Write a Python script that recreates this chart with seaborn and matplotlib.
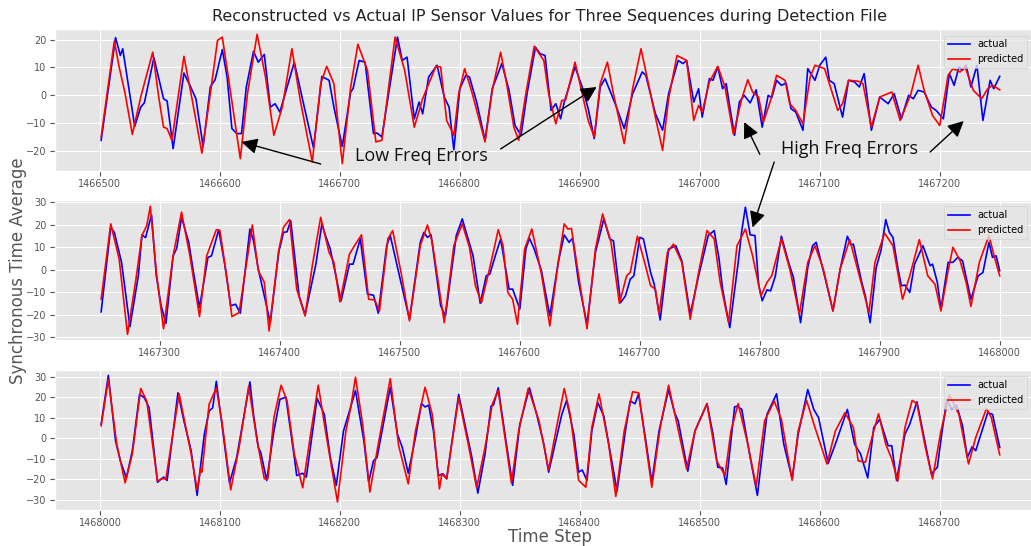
import matplotlib
matplotlib.use("Agg")
from matplotlib import pyplot as plt
from matplotlib.ticker import MultipleLocator
import seaborn as sns

# first time step of each of the three sequences
seq_starts = [1466500, 1467250, 1468000]
seq_len = 750

# (step offset from sequence start, value)
p1_actual = [
    (1, -16.1), (13, 20.7), (17, 14.3), (19, 16.7), (29, -11.1), (34, -4.2), (37, -2.7), (45, 13.5),
    (53, -1.2), (56, -2.0), (61, -19.1), (70, 8.0), (75, 3.6), (80, -1.2), (86, -18.3), (92, 3.0),
    (96, 5.6), (102, 16.4), (106, 6.6), (110, -11.9), (114, -13.7), (118, -13.7), (122, 3.0), (128, 15.8),
    (132, 11.9), (137, 14.7), (142, -4.2), (146, -3.0), (150, -6.0), (162, 11.9), (170, -3.6), (178, -18.8),
    (185, 6.8), (191, 5.4), (195, -4.2), (202, -18.3), (209, 1.2), (211, 2.4), (216, 12.5), (221, 11.9),
    (228, -13.7), (231, -13.5), (235, -14.9), (248, 20.9), (252, 12.5), (256, 13.7), (262, -8.4), (266, -2.4),
    (269, -6.6), (274, 6.6), (281, 10.8), (287, -0.6), (291, -4.2), (295, -19.5), (300, 2.4), (305, 7.2),
    (308, 6.6), (314, -2.4), (321, -16.1), (327, 2.4), (335, 11.4), (341, 1.8), (346, -10.8), (351, -14.3),
    (356, 0.6), (363, 17.3), (367, 14.9), (371, 14.3), (376, -5.4), (380, -3.0), (384, -8.4), (387, -2.4),
    (396, 10.2), (402, 3.0), (407, -4.8), (412, -15.5), (417, 3.0), (421, 6.0), (425, 1.8), (430, -3.6),
    (437, -11.9), (444, 0.6), (452, 8.4), (455, 7.2), (463, -6.6), (469, -12.5), (474, 0.6), (482, 12.5),
    (486, 11.4), (489, 12.5), (495, -2.4), (499, 2.4), (502, -7.8), (508, 6.0), (511, 5.4), (515, 10.2),
    (519, 2.4), (522, 4.2), (525, -4.2), (529, -14.3), (533, -2.4), (537, 0.0), (542, -2.7), (547, 2.0),
    (552, -11.4), (557, 0.0), (560, -0.8), (564, 5.4), (568, 3.6), (572, 4.4), (576, -4.8), (580, -6.0),
    (586, -12.5), (590, 9.6), (596, 5.4), (600, 10.8), (605, 13.7), (608, 5.4), (612, 4.2), (619, -7.8),
    (624, 5.4), (629, 4.8), (633, 3.0), (637, 7.8), (643, -12.5), (650, -0.6), (657, -3.0), (662, 0.6),
    (668, -8.4), (674, 0.0), (678, -1.2), (682, 1.8), (687, 1.2), (693, -4.2), (697, -5.4), (703, -8.4),
    (708, 7.8), (712, 3.6), (716, 10.2), (719, 9.0), (722, 10.8), (726, 3.0), (731, 10.8), (736, -9.0),
    (742, 5.4), (745, 2.4), (750, 6.8),
]
p1_predicted = [
    (1, -14.9), (12, 19.5), (16, 10.2), (21, 0.6), (27, -14.0), (34, -0.6), (44, 15.5), (49, -0.6),
    (53, -11.4), (56, -11.9), (60, -16.1), (70, 14.0), (77, -1.8), (85, -20.7), (92, 0.6), (98, 19.7),
    (102, 20.9), (107, 6.6), (117, -22.7), (123, 0.6), (131, 21.9), (138, 6.6), (145, -14.3), (152, -4.2),
    (160, 16.7), (167, -1.8), (177, -23.9), (184, 4.2), (189, 10.4), (195, 4.2), (202, -24.5), (209, 3.0),
    (215, 18.3), (223, 9.0), (230, -16.7), (235, -16.1), (246, 20.9), (254, 9.0), (262, -11.4), (269, -1.2),
    (280, 10.4), (284, 10.2), (289, -9.0), (295, -14.3), (299, 0.6), (304, 9.6), (310, 1.2), (321, -16.7),
    (327, 1.8), (334, 15.5), (339, 4.2), (345, -11.4), (349, -16.1), (355, 0.6), (362, 17.6), (370, 12.5),
    (374, 0.6), (380, -10.2), (385, -1.8), (388, -1.8), (396, 11.9), (402, 0.6), (407, -9.0), (412, -14.9),
    (417, 4.2), (423, 11.9), (428, 0.6), (432, -7.2), (437, -17.3), (444, 2.4), (451, 16.7), (456, 6.6),
    (463, -7.8), (469, -19.7), (474, -1.2), (481, 14.3), (489, 12.5), (495, -9.0), (499, -3.6), (502, -6.0),
    (508, 4.8), (515, 10.4), (521, 3.0), (528, -14.0), (535, -1.2), (540, 5.6), (544, 1.2), (549, -0.6),
    (553, -9.6), (559, -1.8), (564, 7.2), (571, 5.4), (575, -3.0), (580, -5.4), (586, -10.2), (592, 6.6),
    (596, 10.8), (604, 9.6), (608, 4.2), (615, -5.4), (619, -3.0), (624, 5.4), (632, 5.1), (636, 4.2),
    (643, -11.4), (650, -0.6), (660, 1.2), (667, -9.0), (676, 0.6), (682, 10.8), (687, 1.8), (694, -7.2),
    (700, -10.8), (707, 7.2), (711, 9.6), (717, 8.4), (721, 10.4), (728, 1.8), (735, -1.2), (740, 2.4),
    (744, 3.6), (750, 2.0),
]

p2_actual = [
    (1, -18.7), (9, 18.9), (12, 16.6), (18, 3.3), (25, -25.3), (32, -2.7), (35, 15.5), (38, 14.3),
    (43, 24.4), (47, -2.7), (51, -16.0), (55, -23.8), (61, 6.2), (64, 9.5), (68, 23.3), (74, 12.2),
    (78, -1.2), (83, -16.8), (90, 5.5), (93, 6.2), (99, 17.8), (104, 2.5), (109, -16.0), (113, -15.3),
    (117, -19.3), (125, 18.1), (128, 12.9), (132, 0.3), (142, -23.5), (149, 7.7), (153, 16.6), (156, 16.9),
    (159, 21.8), (166, -11.6), (171, -20.0), (180, 2.5), (185, 20.4), (188, 15.2), (192, 9.2), (201, -13.8),
    (208, 2.5), (211, 2.5), (217, 13.7), (223, -10.8), (228, -11.3), (232, -19.3), (239, 10.7), (242, 15.2),
    (249, -1.2), (258, -22.0), (267, 12.2), (270, 16.6), (273, 14.4), (276, 15.5), (284, -16.0), (288, -20.5),
    (297, 15.2), (302, 22.6), (311, 6.2), (317, -14.9), (322, -2.7), (325, -1.9), (330, 7.0), (334, 13.7),
    (341, -8.6), (344, -8.6), (350, -17.5), (355, 9.2), (358, 14.0), (362, 9.2), (368, -0.4), (375, -20.5),
    (382, 3.3), (387, 15.5), (391, 12.2), (394, 14.0), (399, -5.6), (406, -24.2), (413, 7.7), (420, 22.6),
    (425, 13.7), (428, 12.9), (434, -14.6), (438, -11.6), (442, -4.2), (445, -2.7), (450, 14.4), (453, 13.7),
    (459, -1.2), (462, -6.4), (467, -22.3), (474, 9.2), (480, 10.7), (485, 4.0), (492, -19.8), (499, -2.7),
    (507, 15.2), (512, 17.4), (516, 5.0), (519, -8.6), (521, -14.6), (525, -25.7), (532, 3.3), (535, 17.4),
    (538, 27.8), (542, 15.5), (546, 15.2), (549, -6.4), (552, -13.8), (556, -8.9), (559, -9.4), (563, -2.7),
    (568, 14.9), (574, 3.3), (578, -3.4), (584, -23.5), (590, 1.0), (594, 10.7), (597, 12.2), (604, -2.7),
    (611, -18.3), (617, 0.3), (623, 14.9), (626, 11.0), (628, 11.4), (635, -5.6), (638, -11.6), (642, -23.5),
    (647, 1.0), (651, 8.5), (655, 22.3), (658, 16.6), (661, 14.4), (665, 1.0), (668, -7.1), (671, -6.8),
    (675, -10.1), (679, 2.5), (686, 10.7), (692, 1.8), (694, 2.5), (698, -5.6), (701, -17.5), (707, 3.3),
    (711, 3.3), (715, 5.5), (719, 4.0), (726, -13.1), (732, -2.7), (736, -1.2), (741, 12.2), (744, 5.5),
    (747, 6.2), (750, -0.4),
]
p2_predicted = [
    (1, -13.1), (9, 20.4), (16, 4.8), (23, -28.7), (30, -4.2), (35, 15.2), (39, 19.6), (42, 28.2),
    (47, -1.2), (53, -26.2), (61, 6.2), (68, 25.6), (75, 6.2), (83, -20.8), (89, 6.2), (97, 17.8),
    (100, 17.4), (106, -4.2), (110, -20.8), (116, -19.0), (127, 19.9), (132, -0.4), (137, -5.6), (141, -27.2),
    (149, 8.5), (153, 18.9), (158, 22.3), (164, -8.6), (171, -20.5), (177, 1.8), (184, 23.3), (191, 7.7),
    (195, 3.3), (200, -14.3), (208, 7.0), (213, 11.4), (218, 15.5), (224, -13.1), (229, -13.4), (233, -18.3),
    (240, 13.7), (244, 17.4), (251, -1.2), (258, -22.7), (267, 10.7), (273, 19.9), (277, 12.2), (287, -23.5),
    (295, 10.7), (302, 20.4), (308, 10.0), (313, -7.1), (318, -14.6), (326, 3.3), (332, 17.8), (336, 10.7),
    (340, -10.1), (344, -13.1), (348, -24.2), (354, 9.2), (360, 18.1), (368, -1.9), (375, -25.0), (382, 3.3),
    (387, 20.4), (390, 18.1), (393, 18.4), (399, -2.7), (406, -26.2), (413, 9.2), (419, 24.8), (426, 12.2),
    (433, -14.9), (439, -2.7), (442, -1.2), (448, 14.9), (454, 3.3), (459, -7.1), (463, -8.6), (466, -19.8),
    (473, 7.7), (478, 11.4), (485, 3.3), (492, -22.0), (499, -1.2), (506, 17.4), (512, 13.7), (517, -5.6),
    (524, -23.5), (531, 10.7), (538, 18.1), (544, 6.2), (551, -11.6), (556, -5.6), (560, -2.7), (568, 13.7),
    (575, 0.3), (583, -19.8), (590, 3.3), (596, 10.7), (603, 0.3), (611, -18.3), (617, 0.3), (625, 13.4),
    (633, -2.7), (641, -19.0), (646, 3.3), (654, 16.3), (661, 10.7), (669, -13.1), (675, -2.7), (683, 13.4),
    (690, -2.7), (696, -6.4), (701, -18.3), (707, -0.4), (711, 10.0), (717, 4.0), (722, -5.6), (726, -16.3),
    (733, 3.3), (741, 15.2), (746, 4.8), (750, -2.7),
]

p3_actual = [
    (1, 6.8), (7, 30.6), (13, -1.3), (17, -11.0), (22, -19.4), (27, -6.1), (33, 21.3), (37, 19.7),
    (41, 14.8), (48, -21.5), (53, -19.0), (56, -20.6), (65, 22.1), (70, 8.4), (76, -6.1), (81, -27.9),
    (87, 1.9), (91, 13.2), (94, 14.8), (97, 27.7), (102, 5.2), (108, -21.9), (114, -9.4), (125, 27.4),
    (128, 11.6), (132, -4.5), (134, -6.9), (139, -20.6), (145, 3.5), (150, 18.9), (155, 20.0), (162, -9.4),
    (164, -18.2), (169, -17.1), (172, -19.0), (181, 19.4), (187, 11.6), (192, -9.4), (197, -23.0), (203, 3.5),
    (208, 13.2), (213, 23.2), (220, -1.3), (224, -21.5), (228, -11.0), (231, -9.4), (242, 24.8), (248, 1.9),
    (252, -4.5), (257, -17.1), (263, 0.3), (268, 16.8), (271, 15.2), (274, 16.1), (278, 3.5), (282, -18.2),
    (286, -17.4), (289, -19.8), (299, 21.3), (306, 1.9), (310, -9.4), (315, -26.8), (321, -7.7), (326, 15.6),
    (328, 16.1), (332, 24.5), (338, 0.3), (344, -23.0), (350, 6.8), (358, 24.5), (364, 11.6), (370, -2.9),
    (374, -16.6), (380, -1.3), (385, 11.6), (389, 18.4), (395, 1.9), (399, -16.6), (402, -15.5), (406, -20.6),
    (410, 3.5), (415, 17.3), (420, 10.8), (427, -12.6), (431, -25.8), (438, 3.5), (442, 18.1), (446, 16.8),
    (449, 21.6), (455, -1.3), (460, -21.5), (466, 3.5), (474, 23.7), (479, 12.4), (482, 8.4), (490, -16.1),
    (496, 3.5), (506, 16.8), (511, 1.9), (515, -14.2), (519, -14.5), (522, -22.6), (529, 15.2), (531, 15.6),
    (535, 14.0), (542, -9.4), (548, -27.9), (556, 11.6), (564, 21.6), (570, -2.9), (577, -19.8), (582, 1.9),
    (590, 23.7), (595, 14.0), (599, 10.0), (607, -12.3), (613, -2.9), (623, 14.0), (629, -2.9), (634, -7.7),
    (640, -19.4), (645, 5.2), (650, 9.2), (657, -3.7), (660, -3.7), (664, -20.6), (671, 1.9), (675, 6.8),
    (681, 17.7), (688, -2.9), (693, -17.4), (698, -14.2), (702, 3.5), (706, 18.9), (710, 14.0), (714, 16.1),
    (719, 6.0), (723, -9.4), (727, -4.2), (730, -6.1), (740, 12.4), (744, 11.6), (750, -4.5),
]
p3_predicted = [
    (1, 6.0), (7, 28.5), (14, -2.9), (21, -21.8), (27, -7.7), (34, 24.2), (39, 18.1), (48, -21.0),
    (51, -19.8), (55, -19.8), (66, 21.6), (76, -7.7), (81, -25.2), (84, -15.0), (85, -16.6), (91, 16.5),
    (97, 24.5), (102, 6.8), (109, -25.2), (116, -4.5), (124, 25.3), (131, -1.3), (137, -19.8), (140, -19.8),
    (145, 10.0), (151, 25.8), (156, 18.1), (162, -7.7), (169, -24.2), (176, 3.5), (182, 25.8), (188, 3.5),
    (198, -31.1), (205, 3.5), (209, 14.8), (213, 29.7), (219, 6.8), (225, -26.3), (231, -6.1), (242, 29.0),
    (249, -3.7), (257, -22.3), (263, 3.5), (271, 24.8), (277, 11.6), (281, -12.6), (283, -24.7), (285, -17.4),
    (289, -19.8), (299, 19.7), (307, -2.9), (314, -24.2), (321, -4.5), (327, 16.5), (332, 23.2), (338, -1.3),
    (343, -21.9), (349, 3.5), (357, 24.2), (366, 8.4), (374, -15.5), (380, 3.5), (387, 24.2), (392, 11.6),
    (399, -20.6), (405, -23.9), (410, 5.2), (416, 21.6), (424, -2.9), (430, -28.4), (437, 3.5), (444, 22.6),
    (449, 22.1), (455, -2.9), (460, -23.9), (467, 5.2), (474, 25.8), (481, 6.8), (489, -15.0), (496, 3.5),
    (506, 16.8), (514, -11.0), (521, -18.2), (526, 3.5), (532, 16.8), (540, -2.9), (547, -23.5), (554, 8.4),
    (562, 18.1), (568, 9.2), (577, -20.6), (582, 3.5), (589, 18.4), (596, 5.2), (606, -12.6), (613, 3.5),
    (621, 12.4), (628, 5.2), (632, -11.0), (638, -11.8), (645, 3.5), (649, 11.9), (655, -2.9), (660, -10.2),
    (665, -21.0), (671, 5.2), (677, 18.4), (681, 16.8), (688, -4.5), (694, -19.8), (701, 3.5), (708, 21.0),
    (716, 11.6), (724, -12.6), (730, 0.3), (739, 14.5), (743, 10.0), (750, -8.1),
]

actual_series = [p1_actual, p2_actual, p3_actual]
predicted_series = [p1_predicted, p2_predicted, p3_predicted]
y_limits = [(-27.0, 23.7), (-31.2, 31.0), (-35.0, 33.2)]

plt.style.use("ggplot")
fig = plt.figure(figsize=(10.31, 5.46), dpi=100)

# axes boxes in figure fractions (left, bottom, width, height); they run past the right edge
boxes = [
    (0.0533, 0.6874, 0.960, 0.259),
    (0.0533, 0.3773, 0.960, 0.2564),
    (0.0533, 0.0660, 0.960, 0.2563),
]

axs = []
for i, box in enumerate(boxes):
    ax = fig.add_axes(box)
    start = seq_starts[i]
    xa = [start + t for t, v in actual_series[i]]
    ya = [v for t, v in actual_series[i]]
    xp = [start + t for t, v in predicted_series[i]]
    yp = [v for t, v in predicted_series[i]]
    sns.lineplot(x=xa, y=ya, ax=ax, color="blue", linewidth=1.2, label="actual")
    sns.lineplot(x=xp, y=yp, ax=ax, color="red", linewidth=1.2, label="predicted")
    ax.set_xlim(start - 37.5, start + seq_len + 37.5)
    ax.set_ylim(*y_limits[i])
    ax.xaxis.set_major_locator(MultipleLocator(100))
    ax.yaxis.set_major_locator(MultipleLocator(10))
    ax.ticklabel_format(axis="x", useOffset=False, style="plain")
    ax.tick_params(labelsize=7, colors="#555555", pad=2.5)
    ax.legend(loc="upper right", bbox_to_anchor=(0.9875, 0.99), fontsize=7,
              handlelength=2.2, borderpad=0.4)
    axs.append(ax)

ax1, ax2, ax3 = axs
ax1.set_title(
    "Reconstructed vs Actual IP Sensor Values for Three Sequences during Detection File",
    fontsize=11.5, color="#222222",
)
ax3.set_xlabel("Time Step", fontsize=12, color="#555555", labelpad=0)
fig.text(0.017, 0.505, "Synchronous Time Average", rotation=90, fontsize=12,
         color="#555555", ha="center", va="center")

arrow = dict(arrowstyle="-|>", color="black", lw=1, mutation_scale=24, shrinkA=0, shrinkB=0)

ax1.text(1466768, -21.8, "Low Freq Errors", fontsize=13, family=["Open Sans", "DejaVu Sans"],
         color="#111111", ha="center", va="center")
ax1.annotate("", xy=(1466618, -16.7), xytext=(1466684, -24.6), arrowprops=arrow, annotation_clip=False)
ax1.annotate("", xy=(1466914, 3.0), xytext=(1466834, -19.2), arrowprops=arrow, annotation_clip=False)

ax1.text(1467125, -19.2, "High Freq Errors", fontsize=13, family=["Open Sans", "DejaVu Sans"],
         color="#111111", ha="center", va="center")
ax1.annotate("", xy=(1467037, -9.6), xytext=(1467050, -21.1), arrowprops=arrow, annotation_clip=False)
ax1.annotate("", xy=(1467220, -9.2), xytext=(1467192, -20.3), arrowprops=arrow, annotation_clip=False)
ax2.annotate("", xy=(1467794, 18.8), xycoords="data", xytext=(1467062, -23.9), textcoords=ax1.transData,
             arrowprops=arrow, annotation_clip=False)

fig.savefig("out.png", dpi=100)
